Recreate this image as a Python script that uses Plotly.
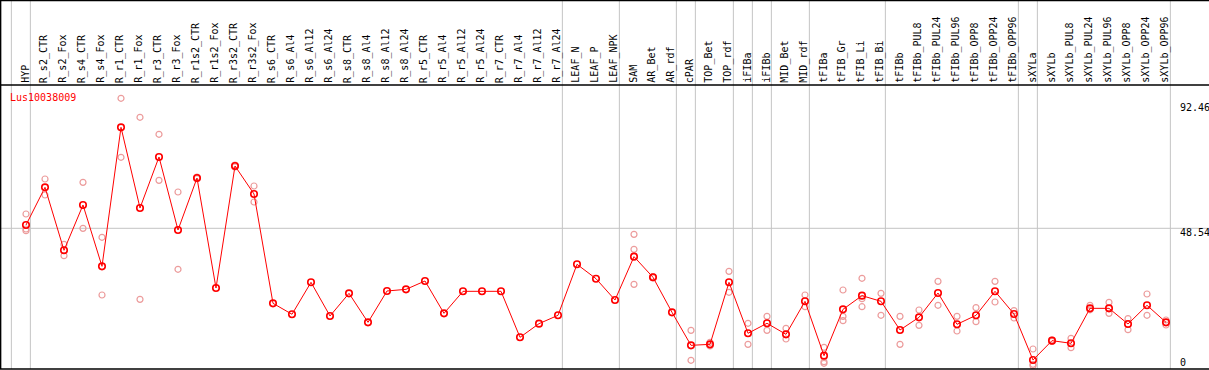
import plotly.graph_objects as go

categories = ["HYP", "R_s2_CTR", "R_s2_Fox", "R_s4_CTR", "R_s4_Fox", "R_r1_CTR", "R_r1_Fox",
              "R_r3_CTR", "R_r3_Fox", "R_r1s2_CTR", "R_r1s2_Fox", "R_r3s2_CTR", "R_r3s2_Fox",
              "R_s6_CTR", "R_s6_Al4", "R_s6_Al12", "R_s6_Al24", "R_s8_CTR", "R_s8_Al4", "R_s8_Al12",
              "R_s8_Al24", "R_r5_CTR", "R_r5_Al4", "R_r5_Al12", "R_r5_Al24", "R_r7_CTR", "R_r7_Al4",
              "R_r7_Al12", "R_r7_Al24", "LEAF_N", "LEAF_P", "LEAF_NPK", "SAM", "AR_Bet", "AR_rdf",
              "cPAR", "TOP_Bet", "TOP_rdf", "iFIBa", "iFIBb", "MID_Bet", "MID_rdf", "tFIBa",
              "tFIB_Gr", "tFIB_Li", "tFIB_Bi", "tFIBb", "tFIBb_PUL8", "tFIBb_PUL24", "tFIBb_PUL96",
              "tFIBb_OPP8", "tFIBb_OPP24", "tFIBb_OPP96", "sXYLa", "sXYLb", "sXYLb_PUL8",
              "sXYLb_PUL24", "sXYLb_PUL96", "sXYLb_OPP8", "sXYLb_OPP24", "sXYLb_OPP96"]

means = [49.65, 62.38, 41.10, 56.41, 35.69, 82.65, 55.40, 72.63, 47.97, 65.53, 28.37, 69.59,
         60.13, 23.19, 19.50, 30.29, 18.91, 26.57, 16.77, 27.36, 27.92, 30.74, 19.81, 27.25,
         27.25, 27.25, 11.71, 16.32, 19.14, 36.37, 31.52, 24.32, 38.96, 31.98, 20.15, 9.00,
         9.34, 30.29, 13.06, 16.44, 12.72, 23.87, 5.51, 21.16, 25.78, 23.87, 14.18, 18.46,
         26.68, 16.10, 19.14, 27.25, 19.59, 4.05, 10.58, 9.68, 21.50, 21.50, 16.21, 22.52, 16.77]

replicates = [
    [53.37, 48.30, 47.74], [65.20, 59.79], [43.12, 39.29], [64.07, 48.53], [45.49, 26.01],
    [92.46, 72.52], [86.03, 24.54], [80.29, 64.74], [60.80, 34.68], [65.8, 65.3], [],
    [69.9, 69.3], [62.83, 57.43],
    [], [], [], [], [], [], [], [], [], [], [], [], [], [], [], [],
    [], [], [],
    [46.50, 41.43, 29.61], [32.2, 31.8], [],
    [14.07, 3.94], [10.0, 8.8], [34.0, 26.91], [16.44, 9.34], [18.80, 14.07],
    [14.75, 11.14], [26.01, 22.06], [8.33, 3.48, 2.94], [27.70, 18.80, 17.34],
    [31.64, 24.77, 22.06], [26.57, 19.14], [18.80, 9.34], [20.94, 15.76], [30.62, 22.52],
    [18.80, 13.84], [21.73, 17.00], [30.62, 23.64], [20.71, 18.24], [7.76, 2.60, 2.13],
    [10.8, 10.3], [11.37, 8.21], [22.5, 21.0], [23.53, 19.81], [18.01, 14.29],
    [26.34, 19.14], [17.56, 15.87],
]

# last category index of each sample group (group separators)
group_ends = [-1, 0, 28, 31, 34, 35, 37, 38, 39, 41, 45, 52, 53, 60]

gene_label = "Lus10038009"
y_tick_text = ["92.46", "48.54", "0"]

W, H = 1209, 370
TOP, BOT = 85, 1
plot_h = H - TOP - BOT

xs = list(range(len(categories)))
rx, ry = [], []
for i, reps in enumerate(replicates):
    for v in reps:
        rx.append(i)
        ry.append(v)

fig = go.Figure()
fig.add_trace(go.Scatter(x=rx, y=ry, mode="markers", hoverinfo="skip",
                         marker=dict(symbol="circle-open", size=6, color="#ec9c9c",
                                     line=dict(width=1.2, color="#ec9c9c"))))
fig.add_trace(go.Scatter(x=xs, y=means, mode="lines+markers",
                         line=dict(color="#ff0000", width=1),
                         marker=dict(symbol="circle-open", size=6.5, color="#ff0000",
                                     line=dict(width=1.6, color="#ff0000"))))

shapes = []
grid = "#c4c4c4"
top_paper = (H - BOT) / plot_h
for g in group_ends:
    shapes.append(dict(type="line", xref="x", yref="paper", x0=g + 0.23, x1=g + 0.23,
                       y0=0, y1=top_paper, line=dict(color=grid, width=1), layer="below"))
shapes.append(dict(type="line", xref="paper", yref="y", x0=0, x1=1, y0=48.54, y1=48.54,
                   line=dict(color=grid, width=1), layer="below"))
# frame lines
blk = "#000000"
shapes.append(dict(type="line", xref="paper", yref="paper", x0=0, x1=1, y0=1, y1=1,
                   line=dict(color=blk, width=1.5)))
shapes.append(dict(type="line", xref="paper", yref="paper", x0=0, x1=1, y0=0, y1=0,
                   line=dict(color=blk, width=1.5)))
shapes.append(dict(type="line", xref="paper", yref="paper", x0=0, x1=1,
                   y0=top_paper - 0.5 / plot_h, y1=top_paper - 0.5 / plot_h,
                   line=dict(color=blk, width=1.5)))
shapes.append(dict(type="line", xref="paper", yref="paper", x0=0.6 / W, x1=0.6 / W,
                   y0=0, y1=top_paper, line=dict(color=blk, width=1.5)))

mono = "DejaVu Sans Mono"
ann = []
for i, c in enumerate(categories):
    ann.append(dict(x=i - 0.07, y=1, xref="x", yref="paper", text=c, textangle=-90,
                    xanchor="center", yanchor="bottom", showarrow=False, yshift=0,
                    font=dict(family=mono, size=10, color="#000000")))

ypix = {"92.46": 107.5, "48.54": 232.7, "0": 362}
for t in y_tick_text:
    ann.append(dict(x=1178 / W, y=(H - BOT - ypix[t]) / plot_h, xref="paper", yref="paper",
                    text=t, xanchor="left", yanchor="middle", showarrow=False,
                    font=dict(family=mono, size=10, color="#000000")))

ann.append(dict(x=8 / W, y=(H - BOT - 97) / plot_h, xref="paper", yref="paper",
                text=gene_label, xanchor="left", yanchor="middle", showarrow=False,
                font=dict(family=mono, size=10, color="#ff0000")))

fig.update_layout(
    width=W, height=H,
    margin=dict(l=0, r=0, t=TOP, b=BOT, pad=0),
    paper_bgcolor="white", plot_bgcolor="white",
    showlegend=False,
    xaxis=dict(range=[-26 / 19, (W - 26) / 19], showgrid=False, zeroline=False,
               showticklabels=False, ticks="", showline=False, fixedrange=True),
    yaxis=dict(range=[1.006, 96.95], showgrid=False, zeroline=False,
               showticklabels=False, ticks="", showline=False, fixedrange=True),
    shapes=shapes,
    annotations=ann,
)

fig.write_html("out.html", config={"displayModeBar": False},
               post_script="document.body.style.margin='0';document.body.style.overflow='hidden';")
